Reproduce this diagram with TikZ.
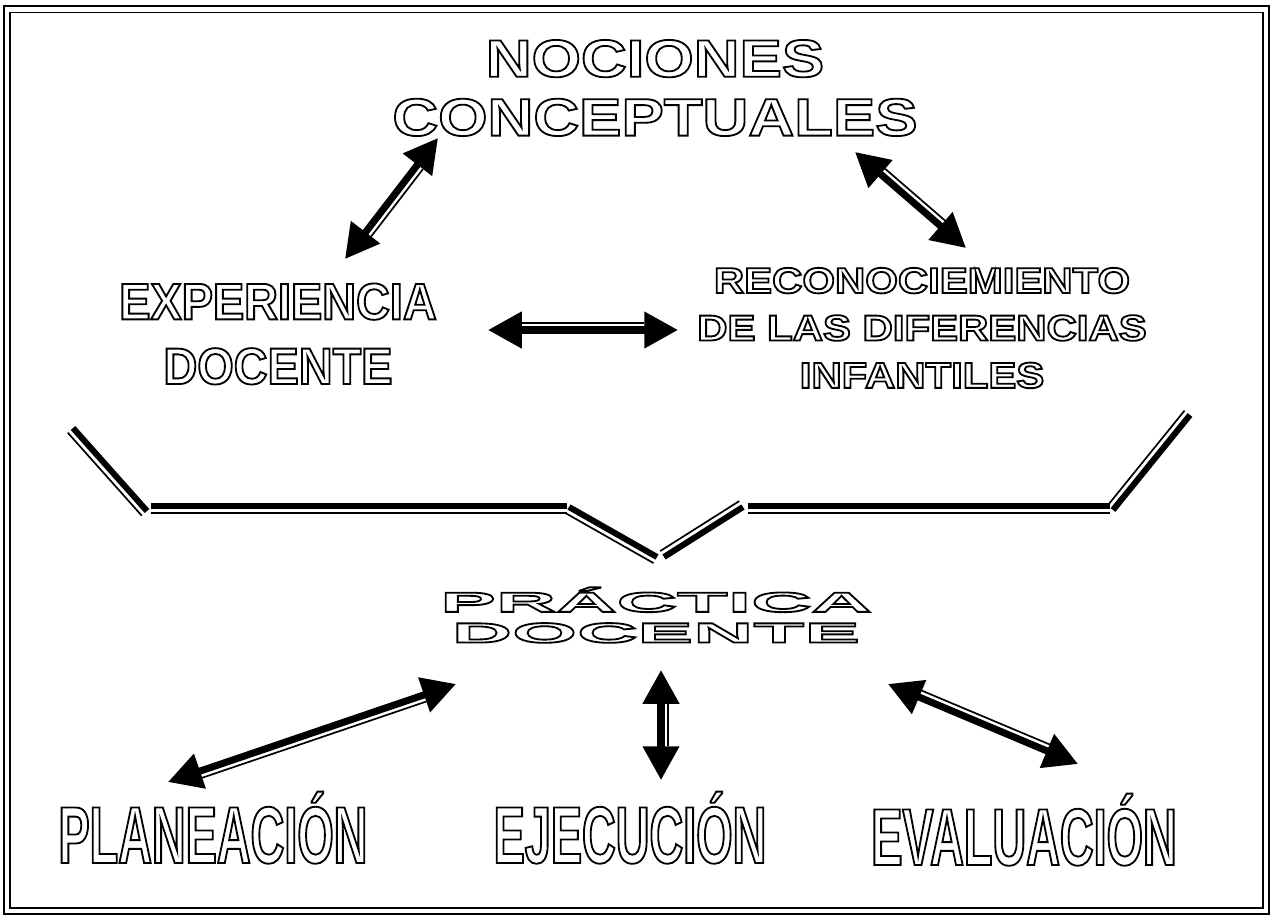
\documentclass[tikz,border=0pt]{standalone}
\usepackage{fontspec}
\usepackage{tikz}
\usetikzlibrary{arrows.meta, calc}
\newfontfamily\nocfont[FakeStretch=1.2]{Liberation Sans}
\newfontfamily\expfont[FakeStretch=0.91]{Liberation Sans}
\newfontfamily\recfont[FakeStretch=1.16]{Liberation Sans}
\newfontfamily\pracfont[FakeStretch=3.0]{Liberation Sans}
\newfontfamily\stagefont[FakeStretch=0.58]{Liberation Sans}
\newcommand{\hollow}[1]{\special{pdf:literal direct 1 Tr 1.3 w}#1\special{pdf:literal direct 0 Tr}}

\begin{document}
\begin{tikzpicture}[x=0.025cm, y=-0.025cm,
    bigarrow/.style={line width=5pt, {Triangle[length=24pt,width=25pt]}-{Triangle[length=24pt,width=25pt]}},
    thinline/.style={line width=1.2pt},
    shaftline/.style={thinline, shorten <=24pt, shorten >=24pt},
    barline/.style={line width=4.3pt},
    label/.style={inner sep=0pt, align=center}]
    \useasboundingbox (0,0) rectangle (1273,920);

    % Double frame
    \draw[line width=2.1pt] (4,6) rectangle (1269,914);
    \draw[line width=1.3pt] (10,12.5) rectangle (1263,908);

    % Texts
    \node[label, font={\nocfont\bfseries\fontsize{37.6}{41.8}\selectfont}] (concepts) at (655,88) {\hollow{NOCIONES\\CONCEPTUALES}};
    \node[label, font={\expfont\bfseries\fontsize{36.6}{46}\selectfont}] (experience) at (278,334) {\hollow{EXPERIENCIA\\DOCENTE}};
    \node[label, font={\recfont\bfseries\fontsize{25.7}{33.7}\selectfont}] (recognition) at (922,328) {\hollow{RECONOCIEMIENTO\\DE LAS DIFERENCIAS\\INFANTILES}};
    \node[label, font={\pracfont\bfseries\fontsize{19.8}{21.8}\selectfont}] (practice) at (656,615) {\hollow{PRÁCTICA\\DOCENTE}};
    \node[label, anchor=base, font={\stagefont\bfseries\fontsize{57.3}{60}\selectfont}] (planning) at (213,863) {\hollow{PLANEACIÓN}};
    \node[label, anchor=base, font={\stagefont\bfseries\fontsize{57.3}{60}\selectfont}] (execution) at (630,863) {\hollow{EJECUCIÓN}};
    \node[label, anchor=base, font={\stagefont\bfseries\fontsize{57.3}{60}\selectfont}] (evaluation) at (1024,865) {\hollow{EVALUACIÓN}};

    % Arrow ends
    \coordinate (a1s) at (345,259);  \coordinate (a1e) at (438,138);
    \coordinate (a2s) at (855,152);  \coordinate (a2e) at (966,248);
    \coordinate (a3s) at (488,330);  \coordinate (a3e) at (678,330);
    \coordinate (a4s) at (168,782);  \coordinate (a4e) at (456,684);
    \coordinate (a5s) at (661,670);  \coordinate (a5e) at (661,780);
    \coordinate (a6s) at (888,684);  \coordinate (a6e) at (1078,764);

    % Double arrows (thick shaft + thin line beside it)
    \foreach \s/\e/\r/\q in {a1s/a1e/-90/90, a2s/a2e/90/-90, a3s/a3e/90/-90, a4s/a4e/-90/90, a5s/a5e/90/-90, a6s/a6e/90/-90} {
      \draw[bigarrow] (\s) -- (\e);
      \draw[shaftline] ($(\s)!5pt!\r:(\e)$) -- ($(\e)!5pt!\q:(\s)$);
    }

    % Broken bar above the practice
    \coordinate (b1) at (73,428);   \coordinate (b2) at (147,511);
    \coordinate (b3) at (151,506);  \coordinate (b4) at (567,506);
    \coordinate (b5) at (569,507);  \coordinate (b6) at (657,557);
    \coordinate (b7) at (664,557);  \coordinate (b8) at (743,507);
    \coordinate (b9) at (748,506);  \coordinate (b10) at (1110,506);
    \coordinate (b11) at (1113,510); \coordinate (b12) at (1190,415);
    \foreach \s/\e/\r/\q in {b1/b2/-90/90, b3/b4/-90/90, b5/b6/-90/90, b7/b8/90/-90, b9/b10/-90/90, b11/b12/90/-90} {
      \draw[barline] (\s) -- (\e);
      \draw[thinline] ($(\s)!5pt!\r:(\e)$) -- ($(\e)!5pt!\q:(\s)$);
    }
\end{tikzpicture}
\end{document}
